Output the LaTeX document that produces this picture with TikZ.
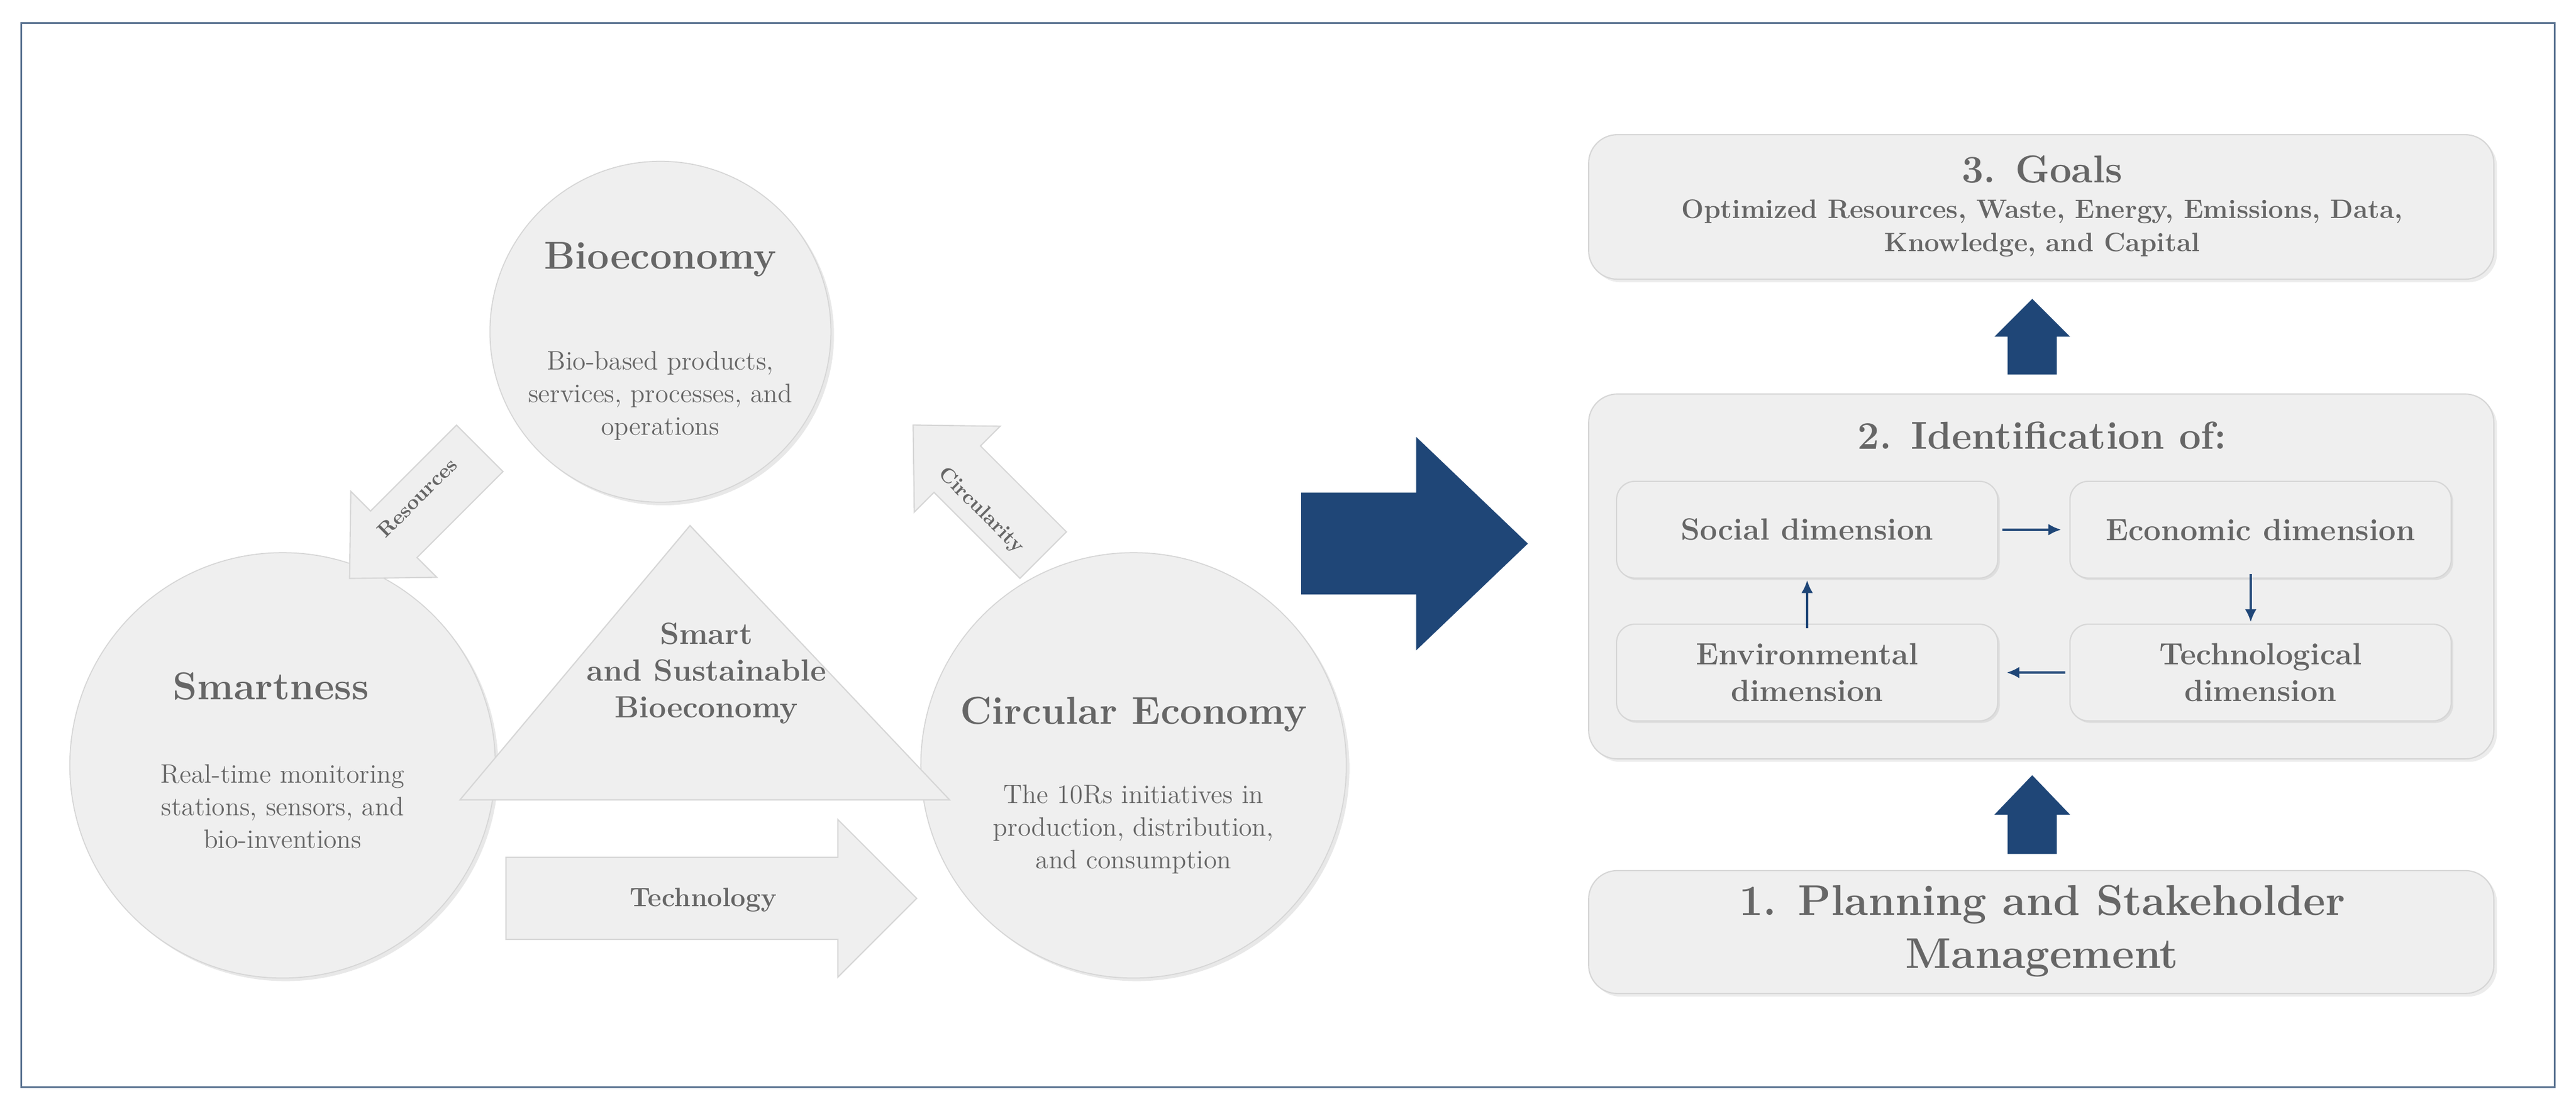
\documentclass[tikz,border=0pt]{standalone}
\usetikzlibrary{shadows,arrows.meta}
\definecolor{txt}{HTML}{666666}
\definecolor{fillg}{HTML}{EFEFEF}
\definecolor{edgeg}{HTML}{D6D6D6}
\definecolor{navy}{HTML}{1F4677}
\definecolor{frame}{HTML}{5B7391}
\newcommand{\fatarrow}[4]{(0,-#2)--(#1-#4,-#2)--(#1-#4,-#3)--(#1,0)--(#1-#4,#3)--(#1-#4,#2)--(0,#2)--cycle}
\begin{document}
\begin{tikzpicture}[x=0.28183mm,y=-0.28183mm,
  circ/.style={circle,fill=fillg,draw=edgeg,line width=0.5pt,drop shadow={opacity=0.18,shadow xshift=1.5pt,shadow yshift=-1.5pt}},
  ttl/.style={text=txt,font=\fontsize{19}{23}\selectfont\bfseries,align=center},
  body/.style={text=txt,font=\fontsize{13}{16}\selectfont,align=center},
  bigbox/.style={draw=edgeg,fill=fillg,rounded corners=14pt,line width=0.6pt,drop shadow={opacity=0.15,shadow xshift=1.5pt,shadow yshift=-1.5pt}},
  dimbox/.style={draw=edgeg,fill=fillg,rounded corners=9pt,line width=0.6pt,drop shadow={opacity=0.15,shadow xshift=1pt,shadow yshift=-1pt},text=txt,font=\fontsize{15}{18}\selectfont\bfseries,align=center,minimum width=65.4mm,minimum height=16.6mm},
  small/.style={-{Latex[length=2.2mm,width=2mm]},navy,line width=1.1pt},
  gar/.style={fill=fillg,draw=edgeg,line width=0.6pt}]
\useasboundingbox (0,0) rectangle (1568,679.5);
\draw[frame,line width=0.8pt] (13,14) rectangle (1555,662);
% circles
\node[circ,minimum size=58.5mm] (bio) at (402,202) {};
\node[circ,minimum size=73mm] (sma) at (172,466) {};
\node[circ,minimum size=73mm] (cir) at (690,466) {};
% triangle
\filldraw[gar] (420,320)--(578,487)--(280,487)--cycle;
\node[ttl,font=\fontsize{15}{18}\selectfont\bfseries] (tri) at (430,410) {Smart\\and Sustainable\\Bioeconomy};
\node[ttl] (bioT) at (402,158) {Bioeconomy};
\node[body] (bioB) at (402,241) {Bio-based products,\\services, processes, and\\operations};
\node[ttl] (smaT) at (165,418) {Smartness};
\node[body] (smaB) at (172,491) {Real-time monitoring\\stations, sensors, and\\bio-inventions};
\node[ttl] (cirT) at (690,435) {Circular Economy};
\node[body] (cirB) at (690,505) {The 10Rs initiatives in\\production, distribution,\\and consumption};
% grey fat arrows
\filldraw[gar,shift={(308,547)}] \fatarrow{250}{25}{48}{48};
\node[text=txt,font=\fontsize{13}{16}\selectfont\bfseries] (tech) at (428,548) {Technology};
\filldraw[gar,shift={(292,273)},rotate=225] \fatarrow{112}{20}{37}{38};
\node[text=txt,font=\fontsize{10}{12}\selectfont\bfseries,rotate=45] (res) at (254,303) {Resources};
\filldraw[gar,shift={(635,338)},rotate=-225] \fatarrow{112}{20}{37}{38};
\node[text=txt,font=\fontsize{10}{12}\selectfont\bfseries,rotate=-45] (circ) at (597,311) {Circularity};
% big blue arrow
\fill[navy,shift={(792,331)}] \fatarrow{138}{31}{65}{68};
% right column
\node[bigbox,minimum width=155.3mm,minimum height=24.8mm] (goals) at (1242.5,126) {};
\node[ttl] at (1243,103) {3. Goals};
\node[text=txt,font=\fontsize{13}{16}\selectfont\bfseries,align=center] at (1243,139) {Optimized Resources, Waste, Energy, Emissions, Data,\\Knowledge, and Capital};
\node[bigbox,minimum width=155.3mm,minimum height=62.6mm] (ident) at (1242.5,351) {};
\node[ttl] at (1243,265) {2. Identification of:};
\node[dimbox] (soc) at (1100,322.5) {Social dimension};
\node[dimbox] (eco) at (1376,322.5) {Economic dimension};
\node[dimbox] (env) at (1100,409.5) {Environmental\\dimension};
\node[dimbox] (tec) at (1376,409.5) {Technological\\dimension};
\draw[small] (soc.east)++(2pt,0) -- ([xshift=-4pt]eco.west);
\draw[small] (1370,352) ++(0,2pt) -- ([yshift=1pt]1370,380);
\draw[small] (tec.west)++(-2pt,0) -- ([xshift=4pt]env.west -| env.east);
\draw[small] (1100,380) ++(0,-2pt) -- ([yshift=-1pt]1100,352);
\node[bigbox,minimum width=155.3mm,minimum height=21.1mm] (plan) at (1242.5,567.5) {};
\node[ttl,font=\fontsize{21}{26}\selectfont\bfseries] at (1243,567) {1. Planning and Stakeholder\\Management};
\fill[navy,shift={(1237,228)},rotate=90] \fatarrow{46}{15}{23}{23};
\fill[navy,shift={(1237,520)},rotate=90] \fatarrow{48}{15}{23}{24};
\end{tikzpicture}
\end{document}
